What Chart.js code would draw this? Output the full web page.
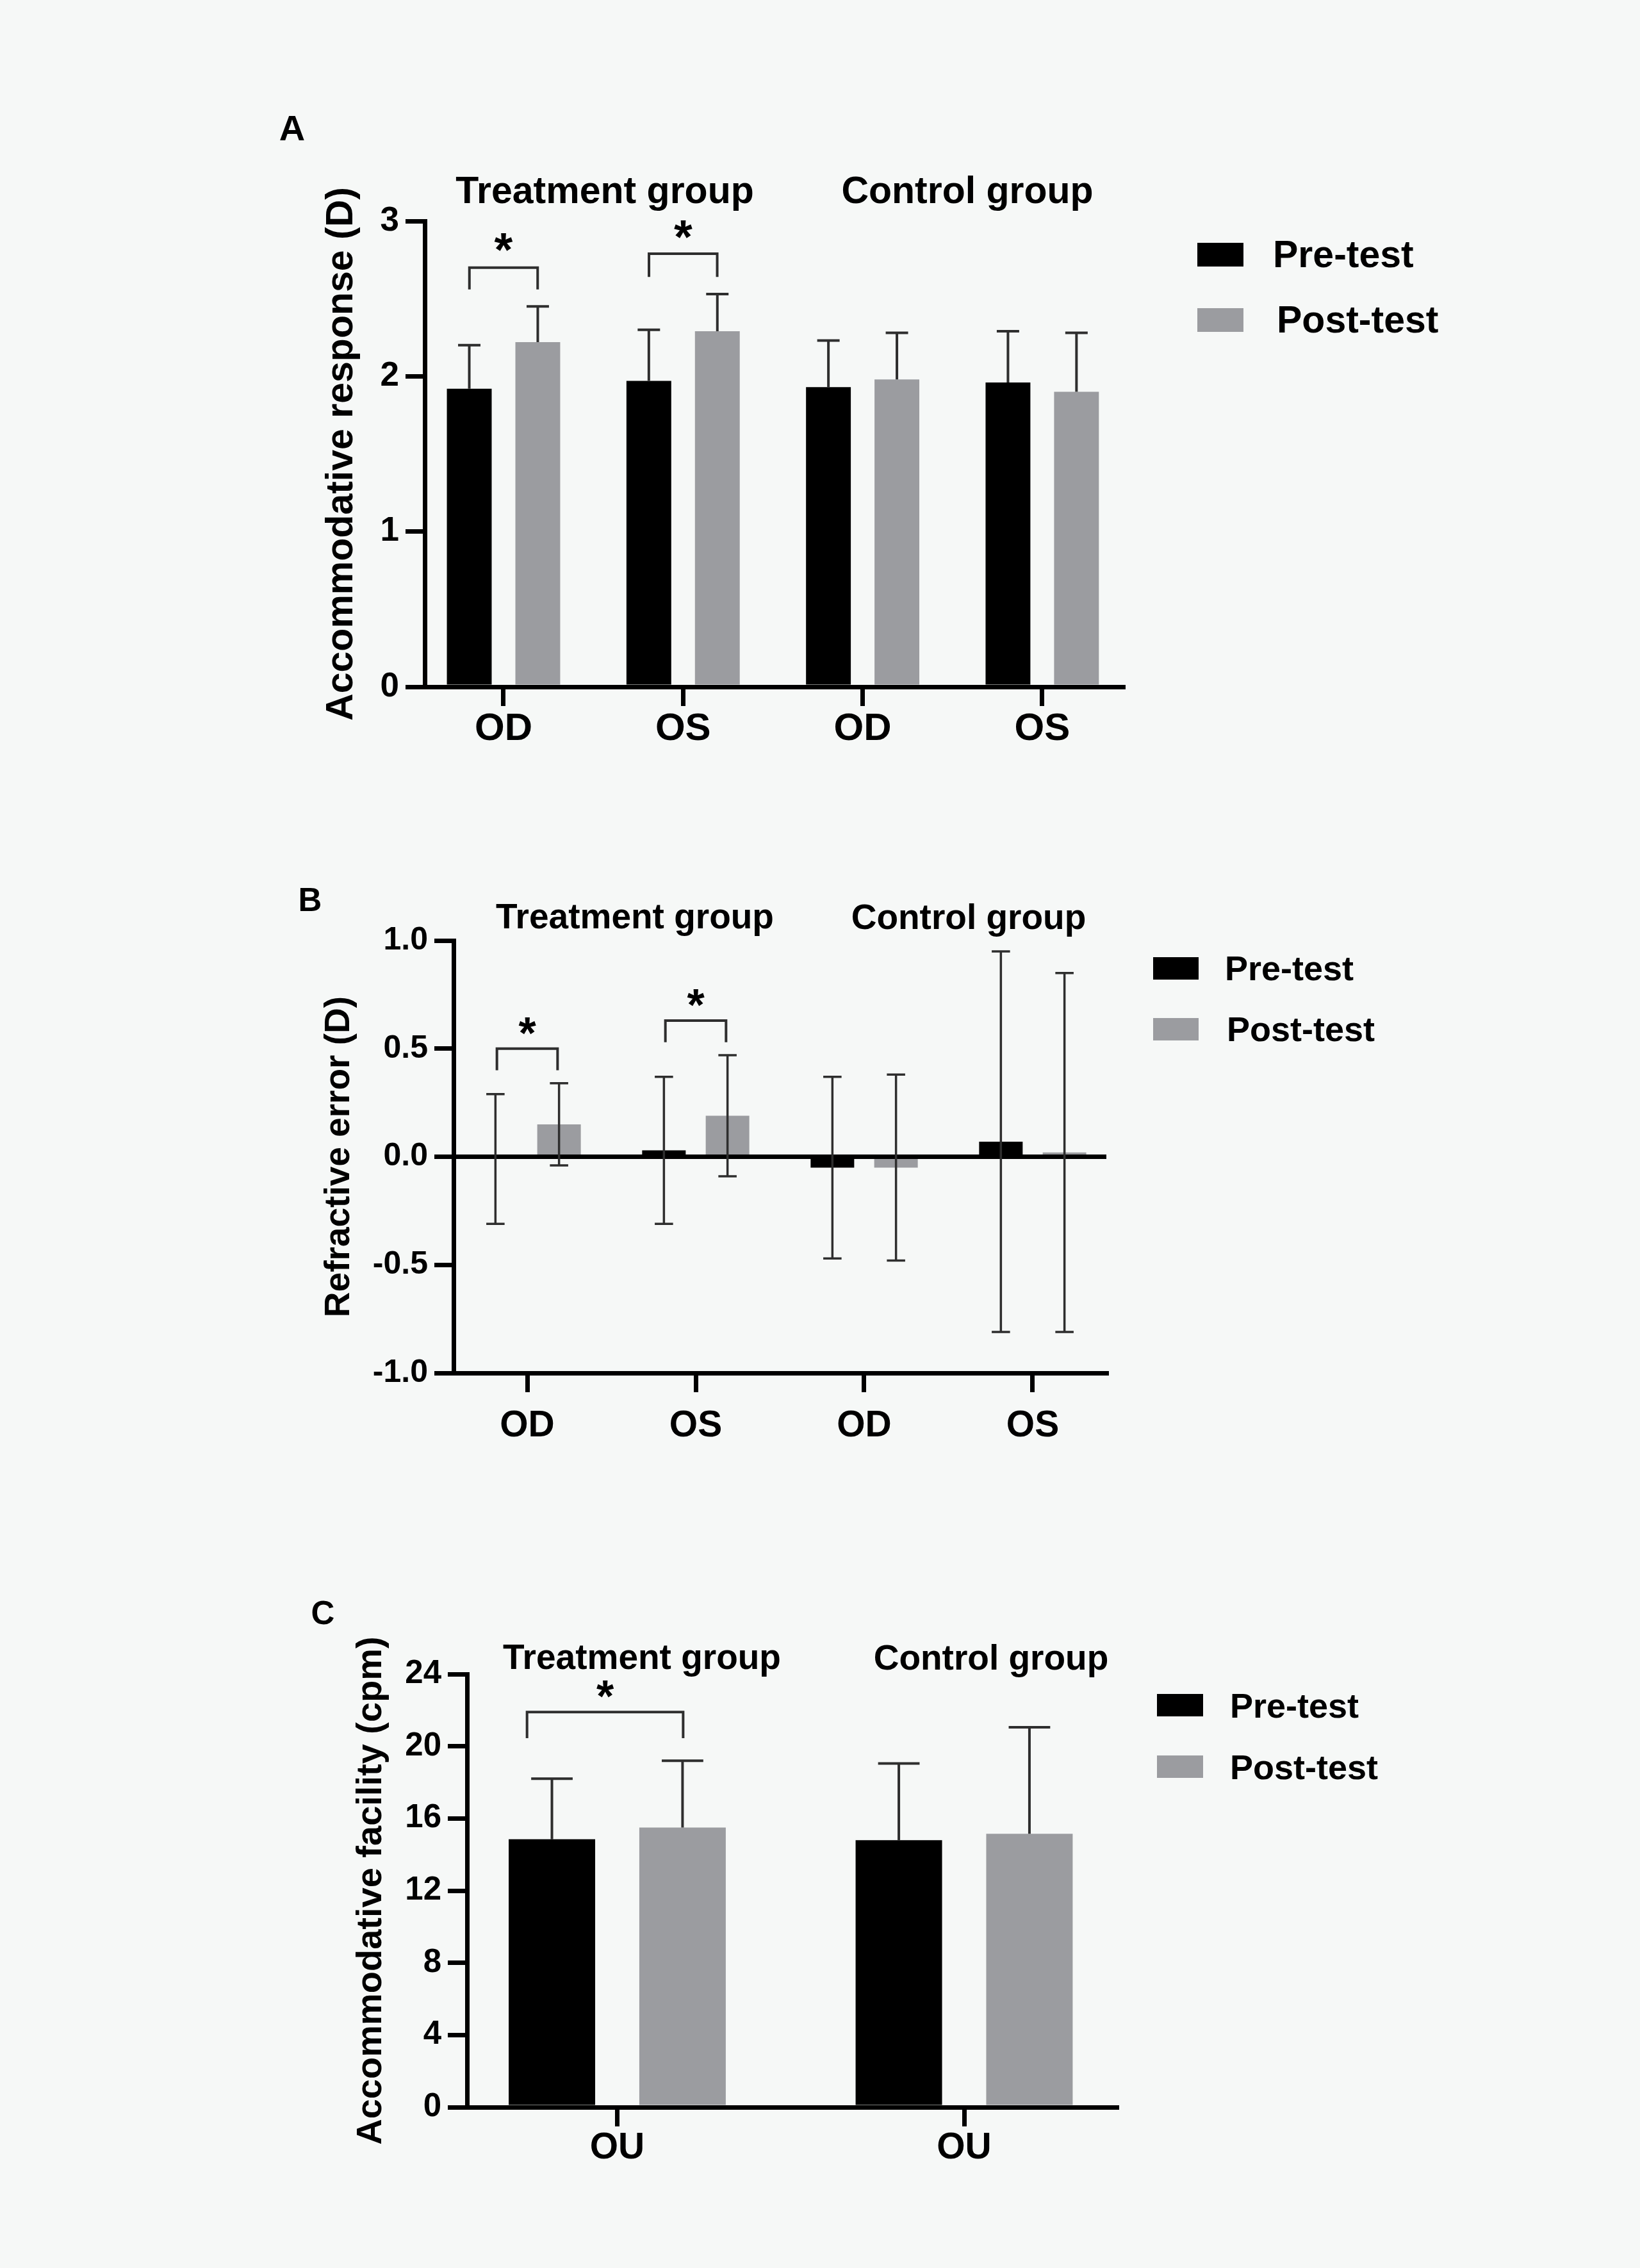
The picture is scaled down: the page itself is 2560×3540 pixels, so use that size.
<!DOCTYPE html>
<html>
<head>
<meta charset="utf-8">
<script src="https://cdn.jsdelivr.net/npm/chart.js@4.4.0/dist/chart.umd.min.js"></script>
<style>
  html, body { margin: 0; padding: 0; background: #f6f8f7; }
  body { width: 2560px; height: 3540px; position: relative; overflow: hidden;
         font-family: "Liberation Sans", Arial, sans-serif; font-weight: bold; color: #000; }
  canvas { position: absolute; }
  .txt { position: absolute; white-space: nowrap; line-height: 1; transform: translate(-50%, -50%); }
  .leg { position: absolute; white-space: nowrap; line-height: 1; transform: translateY(-50%); }
  .box { position: absolute; }
</style>
</head>
<body>
<canvas id="chartA" width="1550" height="1100" style="left:300px;top:150px;width:1550px;height:1100px"></canvas>
<canvas id="chartB" width="1550" height="1050" style="left:300px;top:1300px;width:1550px;height:1050px"></canvas>
<canvas id="chartC" width="1550" height="1050" style="left:300px;top:2450px;width:1550px;height:1050px"></canvas>

<div class="txt" style="left:456px;top:200px;font-size:56px">A</div>
<div class="txt" style="left:484px;top:1404px;font-size:51px">B</div>
<div class="txt" style="left:504px;top:2517px;font-size:51px">C</div>

<div class="txt" style="left:944px;top:297px;font-size:59px">Treatment group</div>
<div class="txt" style="left:1510px;top:297px;font-size:59px">Control group</div>
<div class="txt" style="left:991px;top:1430px;font-size:55px">Treatment group</div>
<div class="txt" style="left:1512px;top:1431px;font-size:55px">Control group</div>
<div class="txt" style="left:1002px;top:2586px;font-size:55px">Treatment group</div>
<div class="txt" style="left:1547px;top:2587px;font-size:55px">Control group</div>

<script>
// categories and series
const eyeLabels = ['OD', 'OS', 'OD', 'OS'];
const bothEyeLabels = ['OU', 'OU'];
const seriesNames = ['Pre-test', 'Post-test'];

// A: accommodative response (D), mean + SD
const responsePre = [1.92, 1.97, 1.93, 1.96];
const responsePreSD = [0.28, 0.33, 0.30, 0.33];
const responsePost = [2.22, 2.29, 1.98, 1.90];
const responsePostSD = [0.23, 0.24, 0.30, 0.38];

// B: refractive error (D), mean +/- SD
const refractionPre = [-0.01, 0.03, -0.05, 0.07];
const refractionPreSD = [0.30, 0.34, 0.42, 0.88];
const refractionPost = [0.15, 0.19, -0.05, 0.02];
const refractionPostSD = [0.19, 0.28, 0.43, 0.83];

// C: accommodative facility (cpm), mean + SD
const facilityPre = [14.85, 14.8];
const facilityPreSD = [3.35, 4.25];
const facilityPost = [15.5, 15.15];
const facilityPostSD = [3.7, 5.9];

// significance brackets (x in category units, levels in data units)
const sigA = [
  { from: -0.19, to: 0.19, top: 2.70, foot: 2.56, star: 2.89 },
  { from: 0.81, to: 1.19, top: 2.79, foot: 2.64, star: 2.97 }
];
const sigB = [
  { from: -0.18, to: 0.18, top: 0.50, foot: 0.40, star: 0.62 },
  { from: 0.82, to: 1.18, top: 0.63, foot: 0.53, star: 0.75 }
];
const sigC = [
  { from: -0.26, to: 0.19, top: 21.9, foot: 20.45, star: 23.35 }
];

const FONT = "'Liberation Sans', Arial, sans-serif";
Chart.defaults.font.family = FONT;
Chart.defaults.font.weight = 'bold';
Chart.defaults.color = '#000';

const preColor = '#000000';
const postColor = '#9b9ca0';

function errorBars(both, capRatio, lineWidth) {
  return {
    id: 'errorBars',
    afterDatasetsDraw(chart) {
      const ctx = chart.ctx;
      const y = chart.scales.y;
      ctx.save();
      ctx.strokeStyle = '#2e2e2e';
      ctx.lineWidth = lineWidth;
      chart.data.datasets.forEach((ds, di) => {
        const meta = chart.getDatasetMeta(di);
        meta.data.forEach((bar, i) => {
          const v = ds.data[i].y;
          const e = ds.errors[i];
          const yTop = y.getPixelForValue(v + e);
          const yBot = both ? y.getPixelForValue(v - e) : y.getPixelForValue(v);
          const half = bar.width * capRatio / 2;
          ctx.beginPath();
          ctx.moveTo(bar.x, yBot);
          ctx.lineTo(bar.x, yTop);
          ctx.moveTo(bar.x - half, yTop);
          ctx.lineTo(bar.x + half, yTop);
          if (both) {
            ctx.moveTo(bar.x - half, yBot);
            ctx.lineTo(bar.x + half, yBot);
          }
          ctx.stroke();
        });
      });
      ctx.restore();
    }
  };
}

function brackets(items, starSize) {
  return {
    id: 'brackets',
    afterDatasetsDraw(chart) {
      const { ctx, scales: { x, y } } = chart;
      ctx.save();
      ctx.strokeStyle = '#2e2e2e';
      ctx.lineWidth = 4;
      ctx.fillStyle = '#000';
      ctx.font = `bold ${starSize}px ${FONT}`;
      ctx.textAlign = 'center';
      ctx.textBaseline = 'alphabetic';
      items.forEach(b => {
        const x1 = x.getPixelForValue(b.from);
        const x2 = x.getPixelForValue(b.to);
        const yt = y.getPixelForValue(b.top);
        const yf = y.getPixelForValue(b.foot);
        ctx.beginPath();
        ctx.moveTo(x1, yf);
        ctx.lineTo(x1, yt);
        ctx.lineTo(x2, yt);
        ctx.lineTo(x2, yf);
        ctx.stroke();
        ctx.fillText('*', (x1 + x2) / 2, y.getPixelForValue(b.star) + starSize * 0.58);
      });
      ctx.restore();
    }
  };
}

const zeroLine = {
  id: 'zeroLine',
  afterDatasetsDraw(chart) {
    const { ctx, chartArea, scales: { y } } = chart;
    const py = y.getPixelForValue(0);
    ctx.save();
    ctx.strokeStyle = '#000';
    ctx.lineWidth = 7;
    ctx.beginPath();
    ctx.moveTo(chartArea.left, py);
    ctx.lineTo(chartArea.right, py);
    ctx.stroke();
    ctx.restore();
  }
};

function points(values) {
  return values.map((v, i) => ({ x: i, y: v }));
}

function makeChart(id, cfg) {
  const datasets = [
    { label: seriesNames[0], data: points(cfg.pre), errors: cfg.preSD, backgroundColor: preColor },
    { label: seriesNames[1], data: points(cfg.post), errors: cfg.postSD, backgroundColor: postColor }
  ].map(d => Object.assign(d, {
    borderWidth: 0,
    categoryPercentage: cfg.catPct,
    barPercentage: cfg.barPct
  }));

  return new Chart(document.getElementById(id), {
    type: 'bar',
    data: { datasets },
    options: {
      responsive: false,
      animation: false,
      devicePixelRatio: 1,
      layout: { padding: { top: cfg.padTop, right: cfg.padRight, left: 0, bottom: 0 } },
      plugins: { legend: { display: false }, tooltip: { enabled: false } },
      scales: {
        x: {
          type: 'linear',
          min: cfg.xMin,
          max: cfg.xMax,
          offset: false,
          afterBuildTicks: (scale) => { scale.ticks = cfg.labels.map((_, i) => ({ value: i })); },
          afterFit: (scale) => { scale.height = cfg.xHeight; },
          grid: { display: true, offset: false, drawOnChartArea: false, drawTicks: true,
                  tickLength: 30, color: '#000', lineWidth: 7 },
          border: { display: true, color: '#000', width: 7, z: 1 },
          ticks: {
            autoSkip: false, maxRotation: 0, padding: cfg.xPad,
            font: { size: cfg.xFont, weight: 'bold' }, color: '#000',
            callback: (value) => cfg.labels[value]
          }
        },
        y: {
          type: 'linear',
          min: cfg.yMin,
          max: cfg.yMax,
          afterFit: (scale) => { scale.width = cfg.yWidth; },
          grid: { display: true, drawOnChartArea: false, drawTicks: true,
                  tickLength: 30, color: '#000', lineWidth: 7 },
          border: { display: true, color: '#000', width: 7, z: 1 },
          ticks: {
            stepSize: cfg.step, padding: 10,
            font: { size: cfg.yFont, weight: 'bold' }, color: '#000',
            callback: cfg.fmt
          },
          title: {
            display: true, text: cfg.title, color: '#000',
            font: { size: cfg.titleFont, weight: 'bold' },
            padding: { top: cfg.titlePad, bottom: 0 }
          }
        }
      }
    },
    plugins: cfg.plugins
  });
}

makeChart('chartA', {
  labels: eyeLabels,
  pre: responsePre, preSD: responsePreSD, post: responsePost, postSD: responsePostSD,
  catPct: 0.763, barPct: 0.654,
  padTop: 195, padRight: 97, xHeight: 178, yWidth: 363,
  xMin: -0.4388, xMax: 3.4499, xPad: 0, xFont: 60,
  yMin: 0, yMax: 3, step: 1, yFont: 53, fmt: (v) => String(v),
  title: 'Accommodative response (D)', titleFont: 59, titlePad: 198,
  plugins: [errorBars(false, 0.5, 4), brackets(sigA, 74)]
});

makeChart('chartB', {
  labels: eyeLabels,
  pre: refractionPre, preSD: refractionPreSD, post: refractionPost, postSD: refractionPostSD,
  catPct: 0.755, barPct: 0.685,
  padTop: 168, padRight: 123, xHeight: 207, yWidth: 408,
  xMin: -0.4373, xMax: 3.4373, xPad: 19, xFont: 57,
  yMin: -1, yMax: 1, step: 0.5, yFont: 50, fmt: (v) => v.toFixed(1),
  title: 'Refractive error (D)', titleFont: 55, titlePad: 197,
  plugins: [zeroLine, errorBars(true, 0.42, 3.5), brackets(sigB, 70)]
});

makeChart('chartC', {
  labels: bothEyeLabels,
  pre: facilityPre, preSD: facilityPreSD, post: facilityPost, postSD: facilityPostSD,
  catPct: 0.753, barPct: 0.662,
  padTop: 163, padRight: 107, xHeight: 211, yWidth: 429,
  xMin: -0.433, xMax: 1.4395, xPad: 0, xFont: 57,
  yMin: 0, yMax: 24, step: 4, yFont: 51, fmt: (v) => String(v),
  title: 'Accommodative facility (cpm)', titleFont: 56, titlePad: 246,
  plugins: [errorBars(false, 0.48, 4), brackets(sigC, 70)]
});

// legends
function addLegend(boxLeft, boxTops, boxW, boxH, textLeft, textMids, size) {
  const colors = [preColor, postColor];
  seriesNames.forEach((name, i) => {
    const box = document.createElement('div');
    box.className = 'box';
    box.style.cssText = `left:${boxLeft}px;top:${boxTops[i]}px;width:${boxW}px;height:${boxH}px;background:${colors[i]}`;
    document.body.appendChild(box);
    const t = document.createElement('div');
    t.className = 'leg';
    t.style.cssText = `left:${textLeft[i]}px;top:${textMids[i]}px;font-size:${size}px`;
    t.textContent = name;
    document.body.appendChild(t);
  });
}
addLegend(1869, [379, 481], 72, 37, [1987, 1993], [397, 499], 59);
addLegend(1800, [1494, 1589], 71, 35, [1912, 1915], [1511, 1606], 54);
addLegend(1806, [2644, 2740], 72, 35, [1920, 1920], [2662, 2758], 54);
</script>
</body>
</html>
